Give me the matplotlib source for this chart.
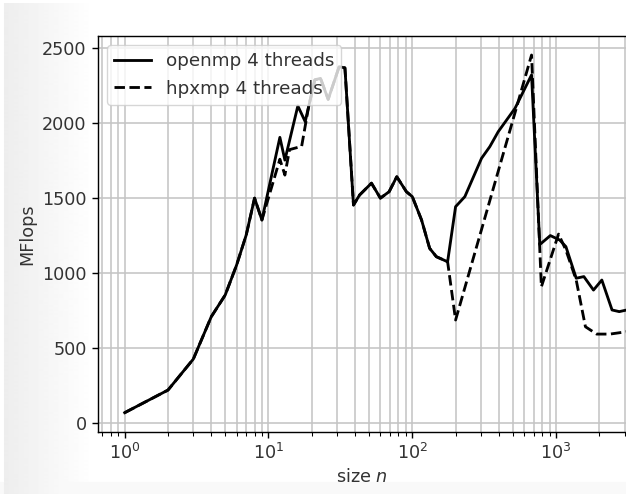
import numpy as np
import matplotlib
matplotlib.use("Agg")
import matplotlib.pyplot as plt

# ---- data ----
openmp_n = [1, 2, 3, 4, 5, 6, 7, 8, 9, 12, 13, 16, 18, 21, 23, 26, 31, 34,
            39, 43, 52, 60, 69, 78, 91, 100, 116, 132, 147, 176, 200, 232,
            303, 346, 396, 518, 675, 770, 912, 1060, 1170, 1380, 1560, 1820,
            2080, 2450, 2750, 3100]
openmp_mflops = [67, 218, 425, 708, 853, 1053, 1254, 1500, 1354, 1906, 1754,
                 2116, 2011, 2290, 2300, 2160, 2378, 2370, 1454, 1521, 1600,
                 1500, 1543, 1643, 1543, 1510, 1354, 1165, 1109, 1075, 1443,
                 1510, 1766, 1844, 1944, 2100, 2323, 1190, 1250, 1220, 1176,
                 965, 976, 886, 953, 753, 742, 753]

hpxmp_n = [1, 2, 3, 4, 5, 6, 7, 8, 9, 12, 13, 14, 17, 19, 21, 23, 26, 31, 34,
           39, 43, 52, 60, 69, 78, 91, 100, 116, 132, 147, 176, 200, 675,
           790, 1040, 1170, 1380, 1600, 1915, 2370, 3100]
hpxmp_mflops = [67, 218, 425, 708, 853, 1053, 1254, 1500, 1354, 1760, 1654,
                1824, 1846, 2110, 2290, 2300, 2160, 2378, 2370, 1454, 1521,
                1600, 1500, 1543, 1643, 1543, 1510, 1354, 1165, 1109, 1075,
                686, 2456, 908, 1260, 1153, 953, 641, 592, 592, 608]

labels = ["openmp 4 threads", "hpxmp 4 threads"]

S = 1.27
plt.rcParams.update({
    "font.size": 10 * S,
    "lines.linewidth": 1.6 * S,
    "axes.linewidth": 0.8 * S,
    "xtick.major.size": 3.5 * S,
    "ytick.major.size": 3.5 * S,
    "xtick.minor.size": 2.0 * S,
    "xtick.major.width": 0.8 * S,
    "ytick.major.width": 0.8 * S,
    "xtick.minor.width": 0.6 * S,
    "text.color": "#333333",
    "axes.labelcolor": "#333333",
    "xtick.labelcolor": "#333333",
    "ytick.labelcolor": "#333333",
})

fig = plt.figure(figsize=(6.26, 4.94), dpi=100)

# light grey screenshot-like gradient on the left
bg = fig.add_axes([0, 0, 1, 1], zorder=-10)
w = 626
grad = np.ones((494, w))
xs = np.arange(w)
col = 1.0 - 0.07 * np.clip(1 - (xs - 4) / 90.0, 0, 1)
col[:4] = 1.0
grad[:, :] = col
grad[:4, :] = 1.0
grad[482:, :] = np.minimum(grad[482:, :], 0.975)
bg.imshow(grad, cmap="gray", vmin=0, vmax=1, aspect="auto", extent=[0, 1, 0, 1])
bg.set_axis_off()

ax = fig.add_axes([97.7 / 626, 62.3 / 494, 1 - 97.7 / 626, (431.7 - 36) / 494])
ax.plot(openmp_n, openmp_mflops, "k-", label=labels[0])
ax.plot(hpxmp_n, hpxmp_mflops, "k--", label=labels[1])
ax.set_xscale("log")
ax.set_xlim(0.649, 3063)
ax.set_ylim(-60, 2583)
ax.grid(True, which="both", color="#c4c4c4", linewidth=0.9 * S)
ax.spines["right"].set_visible(False)
ax.set_xlabel("size $n$")
ax.set_ylabel("MFlops")
ax.legend(loc="upper left", fontsize=13.2)

fig.savefig("out.png", dpi=100)
